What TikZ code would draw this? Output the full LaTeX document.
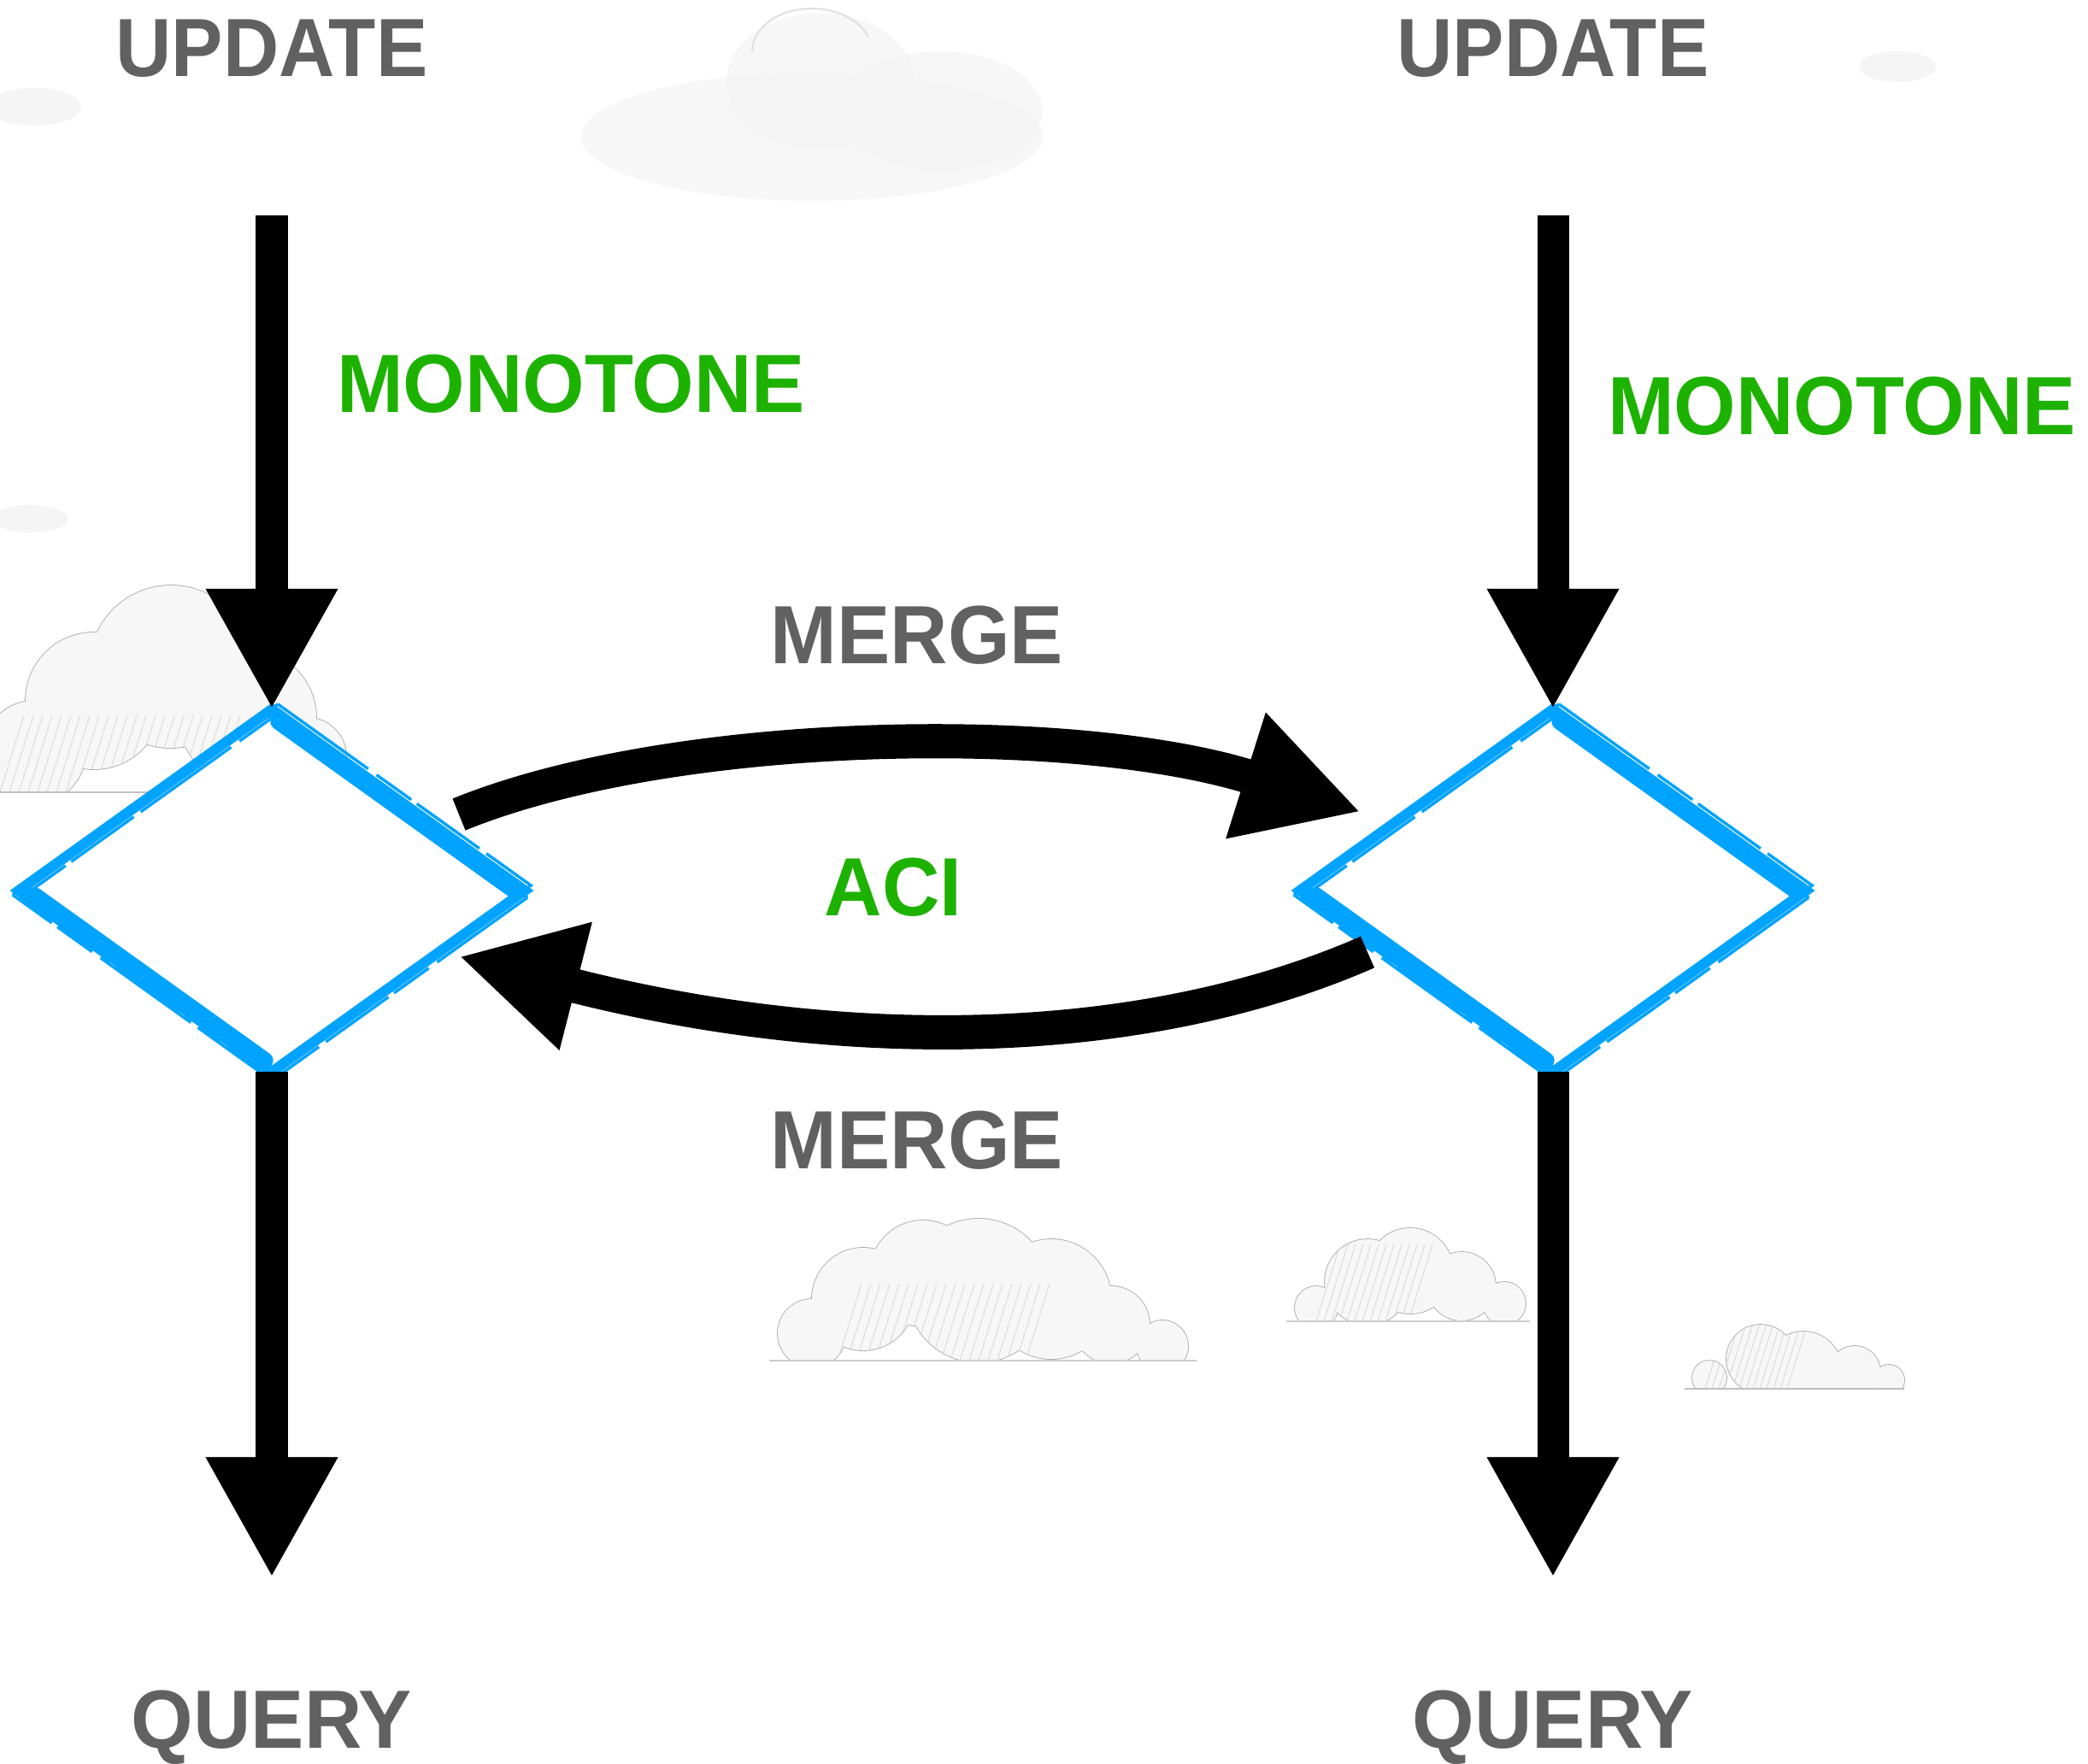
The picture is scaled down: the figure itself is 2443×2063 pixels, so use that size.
\documentclass[tikz,border=0pt]{standalone}
\usepackage{fontspec}
\newfontfamily\lblfont[FakeStretch=0.965]{Liberation Sans}
\newfontfamily\lblnarrow[FakeStretch=0.935]{Liberation Sans}
\usetikzlibrary{arrows.meta,shapes.geometric,calc}

\definecolor{lblgray}{RGB}{97,97,97}
\definecolor{lblgreen}{RGB}{30,178,0}
\definecolor{sketchblue}{RGB}{0,163,255}

\tikzset{
  lbl/.style={font=\lblfont\bfseries\fontsize{27.5}{30}\selectfont,
    text=lblgray, inner sep=0pt, outer sep=0pt, text depth=0pt},
  lblnar/.style={lbl, font=\lblnarrow\bfseries\fontsize{27.5}{30}\selectfont},
  lblg/.style={lbl, text=lblgreen},
  flow/.style={line width=0.37cm, -{Triangle[length=1.41cm,width=1.44cm]}},
  mergearrow/.style={line width=0.40cm, -{Triangle[length=1.41cm,width=1.44cm]}},
  state/.style={diamond, fill=white, draw=none, minimum width=5.92cm,
    minimum height=4.24cm, inner sep=0pt, outer sep=0pt},
  sketchmain/.style={draw=sketchblue, line width=0.12cm, line join=miter},
  sketchbold/.style={draw=sketchblue, line width=0.19cm, line cap=round},
  sketchthin/.style={draw=sketchblue, line width=0.035cm, line join=miter,
    dash pattern=on 1.3cm off 0.12cm on 0.5cm off 0.08cm on 0.9cm off 0.1cm},
  cloudbody/.style={fill=black!3},
  cloudline/.style={draw=black!32, line width=0.018cm},
  hatch/.style={draw=black!14, line width=0.01cm},
  haze/.style={fill=black!4},
}

% a pencil cloud: outline of the puffs, light body, slanted shading
\newcommand\skycloud[4]{%
  \begin{scope}
    \clip #2;
    \draw[cloudline] #1;
    \fill[cloudbody] #1;
    \begin{scope}
      \clip #1;
      \foreach \hx in #3 {\draw[hatch] (\hx,#4) -- ++(28,-90);}
    \end{scope}
  \end{scope}}

\begin{document}
\begin{tikzpicture}[x=0.01cm, y=-0.01cm]
  \useasboundingbox (0,0) rectangle (2443,2063);
  \fill[white] (0,0) rectangle (2443,2063);

  % faint blurred clouds near the top
  \fill[haze, opacity=0.8] (950,160) ellipse [x radius=270, y radius=75];
  \fill[haze, opacity=0.8] (960,95) ellipse [x radius=110, y radius=80];
  \fill[haze, opacity=0.8] (1100,130) ellipse [x radius=120, y radius=70];
  \draw[black!12, line width=0.02cm] (880,60) arc [start angle=180, end angle=20, x radius=70, y radius=-50];
  \fill[haze] (40,125) ellipse [x radius=55, y radius=22];
  \fill[haze] (35,607) ellipse [x radius=45, y radius=16];
  \fill[haze] (2220,78) ellipse [x radius=45, y radius=18];

  % pencil clouds
  \skycloud{(40,880) circle (60) (110,820) circle (80) (200,780) circle (95)
      (290,840) circle (80) (360,885) circle (45)}
    {(-10,600) rectangle (450,927)}{{0,11,...,260}}{927}
  \draw[cloudline, black!25] (0,927) -- (310,927);

  \skycloud{(950,1560) circle (40) (1010,1520) circle (60) (1080,1490) circle (62)
      (1145,1510) circle (84) (1230,1520) circle (70) (1300,1550) circle (45) (1360,1575) circle (30)}
    {(880,1380) rectangle (1420,1592)}{{980,991,...,1200}}{1592}
  \draw[cloudline, black!20] (900,1592) -- (1400,1592);

  \skycloud{(1540,1530) circle (25) (1600,1500) circle (50) (1650,1487) circle (50)
      (1710,1505) circle (40) (1760,1525) circle (25)}
    {(1490,1400) rectangle (1800,1546)}{{1540,1549,...,1650}}{1546}
  \draw[cloudline, black!20] (1505,1546) -- (1790,1546);

  \skycloud{(2000,1612) circle (20) (2060,1590) circle (40) (2110,1603) circle (45)
      (2170,1605) circle (30) (2210,1615) circle (18)}
    {(1960,1540) rectangle (2240,1625)}{{1995,2003,...,2095}}{1625}
  \draw[cloudline, black!25] (1971,1625) -- (2228,1625);

  % the two replicas
  \node[state] (d1) at (318,1042) {};
  \node[state] (d2) at (1817,1042) {};

  \foreach \d in {d1,d2} {
    \draw[sketchmain] (\d.north) -- (\d.east) -- (\d.south) -- (\d.west) -- cycle;
    \draw[sketchbold, transform canvas={xshift=-0.04cm, yshift=-0.06cm}]
      ($(\d.north)!0.04!(\d.east)$) -- ($(\d.north)!0.97!(\d.east)$);
    \draw[sketchbold, transform canvas={xshift=0.04cm, yshift=0.05cm}]
      ($(\d.south)!0.04!(\d.west)$) -- ($(\d.south)!0.95!(\d.west)$);
    \draw[sketchthin, transform canvas={xshift=0.07cm, yshift=0.06cm}]
      (\d.north) -- (\d.east) -- (\d.south) -- (\d.west) -- cycle;
    \draw[sketchthin, transform canvas={xshift=-0.07cm, yshift=-0.05cm}]
      (\d.west) -- (\d.north) -- (\d.east) -- (\d.south) -- cycle;
    \draw[sketchthin, transform canvas={xshift=0.03cm, yshift=-0.08cm}]
      (\d.east) -- (\d.south) -- (\d.west) -- (\d.north) -- cycle;
  }

  % labels
  \node[lblnar] (u1)  at (318,56)    {UPDATE};
  \node[lblnar] (u2)  at (1817,56)   {UPDATE};
  \node[lblg]   (m1)  at (668,449)   {MONOTONE};
  \node[lblg]   (m2)  at (2155,475)  {MONOTONE};
  \node[lbl]    (g1)  at (1073,743)  {MERGE};
  \node[lblg]   (aci) at (1045,1038) {ACI};
  \node[lbl]    (g2)  at (1073,1334) {MERGE};
  \node[lbl]    (q1)  at (318,2012)  {QUERY};
  \node[lbl]    (q2)  at (1817,2012) {QUERY};

  % connector end points
  \coordinate (s1) at (318,252);
  \coordinate (s2) at (1817,252);
  \coordinate (e1) at (318,1846);
  \coordinate (e2) at (1817,1846);
  \coordinate (a1) at (537,953);
  \coordinate (t1) at (1592,950);
  \coordinate (a2) at (1600,1114);
  \coordinate (t2) at (537,1119);

  % update and query flows
  \draw[flow] (s1) -- (d1.north);
  \draw[flow] (s2) -- (d2.north);
  \draw[flow] (d1.south) -- (e1);
  \draw[flow] (d2.south) -- (e2);

  % merges between the replicas
  \draw[mergearrow] (a1) .. controls (790,850) and (1260,845) .. (t1);
  \draw[mergearrow] (a2) .. controls (1330,1232) and (980,1232) .. (t2);
\end{tikzpicture}
\end{document}
